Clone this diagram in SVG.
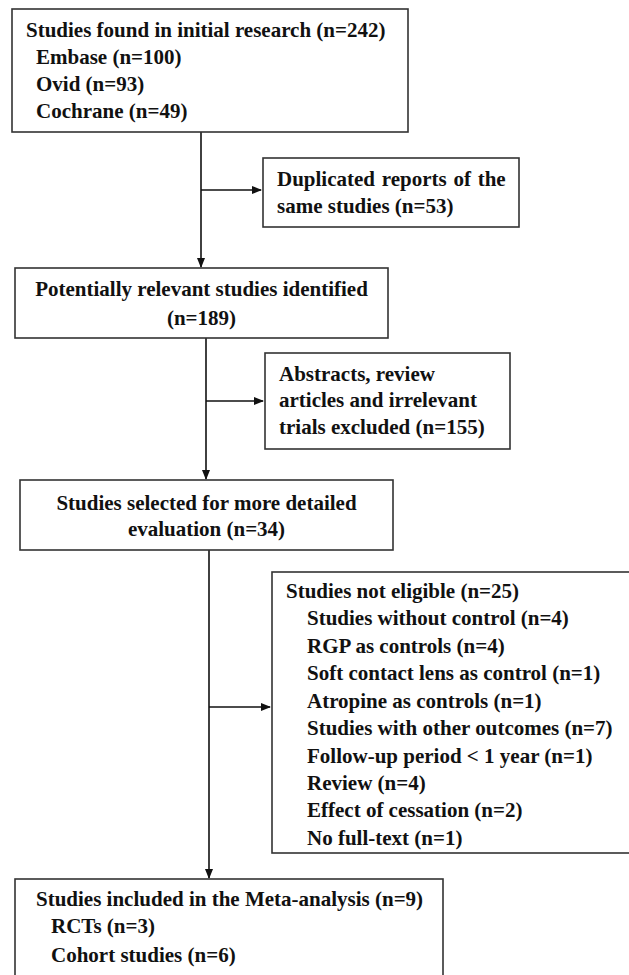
<svg xmlns="http://www.w3.org/2000/svg" width="629" height="975" viewBox="0 0 629 975">
<style>
.box{fill:#fff;stroke:#333;stroke-width:1.6}
.t{font-family:'Liberation Serif','Times New Roman',serif;font-weight:700;font-size:21px;fill:#111}
.c{text-anchor:middle}
.ln{stroke:#111;stroke-width:1.6;fill:none}
</style>
<defs>
<marker id="ah" markerWidth="10" markerHeight="10" refX="9" refY="4" orient="auto" markerUnits="userSpaceOnUse">
<path d="M0,0 L10,4 L0,8 Z" fill="#111"/>
</marker>
</defs>
<rect width="629" height="975" fill="#fff"/>
<g id="connectors">
<line class="ln" x1="201" y1="132" x2="201" y2="267" marker-end="url(#ah)"/>
<line class="ln" x1="201" y1="190" x2="261" y2="190" marker-end="url(#ah)"/>
<line class="ln" x1="206" y1="338" x2="206" y2="479" marker-end="url(#ah)"/>
<line class="ln" x1="206" y1="401" x2="263" y2="401" marker-end="url(#ah)"/>
<line class="ln" x1="209" y1="550" x2="209" y2="878" marker-end="url(#ah)"/>
<line class="ln" x1="209" y1="707" x2="270" y2="707" marker-end="url(#ah)"/>
</g>
<g id="n1">
<rect class="box" x="12" y="9" width="396" height="123"/>
<text class="t" x="26" y="37">Studies found in initial research (n=242)</text>
<text class="t" x="36" y="64">Embase (n=100)</text>
<text class="t" x="36" y="91">Ovid (n=93)</text>
<text class="t" x="36" y="118">Cochrane (n=49)</text>
</g>
<g id="n2">
<rect class="box" x="263" y="158" width="256" height="69"/>
<text class="t" x="277" y="186" word-spacing="1.5">Duplicated reports of the</text>
<text class="t" x="277" y="213">same studies (n=53)</text>
</g>
<g id="n3">
<rect class="box" x="15" y="268" width="373" height="70"/>
<text class="t c" x="201.5" y="296">Potentially relevant studies identified</text>
<text class="t c" x="201.5" y="325">(n=189)</text>
</g>
<g id="n4">
<rect class="box" x="265" y="353" width="245" height="96"/>
<text class="t" x="279" y="381">Abstracts, review</text>
<text class="t" x="279" y="407">articles and irrelevant</text>
<text class="t" x="279" y="434">trials excluded (n=155)</text>
</g>
<g id="n5">
<rect class="box" x="20" y="480" width="373" height="70"/>
<text class="t c" x="206.5" y="510">Studies selected for more detailed</text>
<text class="t c" x="206.5" y="536">evaluation (n=34)</text>
</g>
<g id="n6">
<rect class="box" x="272" y="572" width="360" height="281"/>
<text class="t" x="286" y="598">Studies not eligible (n=25)</text>
<text class="t" x="307" y="625">Studies without control (n=4)</text>
<text class="t" x="307" y="653">RGP as controls (n=4)</text>
<text class="t" x="307" y="680">Soft contact lens as control (n=1)</text>
<text class="t" x="307" y="708">Atropine as controls (n=1)</text>
<text class="t" x="307" y="735">Studies with other outcomes (n=7)</text>
<text class="t" x="307" y="763">Follow-up period &lt; 1 year (n=1)</text>
<text class="t" x="307" y="790">Review (n=4)</text>
<text class="t" x="307" y="817">Effect of cessation (n=2)</text>
<text class="t" x="307" y="845">No full-text (n=1)</text>
</g>
<g id="n7">
<rect class="box" x="15" y="879" width="428" height="110"/>
<text class="t" x="36" y="906">Studies included in the Meta-analysis (n=9)</text>
<text class="t" x="51" y="933">RCTs (n=3)</text>
<text class="t" x="51" y="962">Cohort studies (n=6)</text>
</g>
</svg>
